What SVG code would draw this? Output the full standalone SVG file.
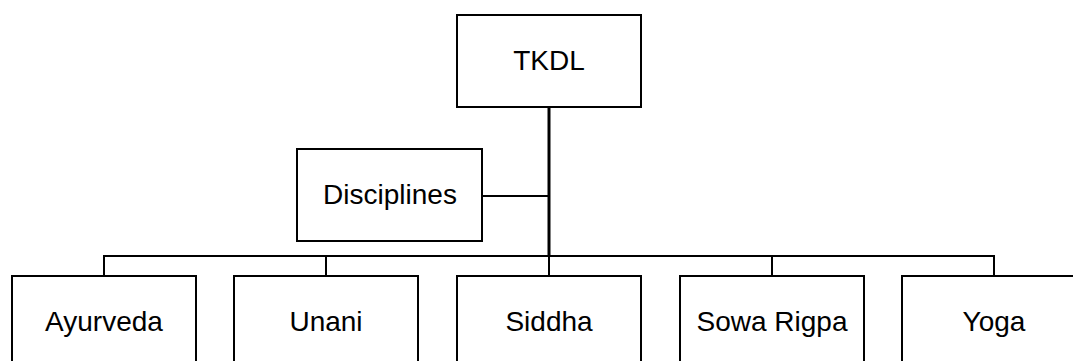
<svg xmlns="http://www.w3.org/2000/svg" width="1073" height="361" viewBox="0 0 1073 361">
<style>
.box{fill:#fff;stroke:#000;stroke-width:2}
.lbl{font-family:"Liberation Sans",Arial,sans-serif;font-size:28px;fill:#000;text-anchor:middle}
.ln{stroke:#000;stroke-width:2;fill:none}
</style>
<rect width="1073" height="361" fill="#fff"/>
<g id="connectors">
<line class="ln" x1="549" y1="107" x2="549" y2="257" style="stroke-width:3"/>
<line class="ln" x1="482" y1="196" x2="549" y2="196"/>
<line class="ln" x1="103" y1="256" x2="995" y2="256"/>
<line class="ln" x1="104" y1="256" x2="104" y2="276"/>
<line class="ln" x1="326" y1="256" x2="326" y2="276"/>
<line class="ln" x1="549" y1="256" x2="549" y2="276"/>
<line class="ln" x1="772" y1="256" x2="772" y2="276"/>
<line class="ln" x1="994" y1="256" x2="994" y2="276"/>
</g>
<g id="tkdl"><rect class="box" x="457" y="15" width="184" height="92"/><text class="lbl" x="549" y="70">TKDL</text></g>
<g id="disciplines"><rect class="box" x="297" y="149" width="185" height="92"/><text class="lbl" x="390" y="204">Disciplines</text></g>
<g id="ayurveda"><rect class="box" x="12" y="276" width="184" height="92"/><text class="lbl" x="104" y="331">Ayurveda</text></g>
<g id="unani"><rect class="box" x="234" y="276" width="184" height="92"/><text class="lbl" x="326" y="331">Unani</text></g>
<g id="siddha"><rect class="box" x="457" y="276" width="184" height="92"/><text class="lbl" x="549" y="331">Siddha</text></g>
<g id="sowa-rigpa"><rect class="box" x="680" y="276" width="184" height="92"/><text class="lbl" x="772" y="331">Sowa Rigpa</text></g>
<g id="yoga"><rect class="box" x="902" y="276" width="184" height="92"/><text class="lbl" x="994" y="331">Yoga</text></g>
</svg>
